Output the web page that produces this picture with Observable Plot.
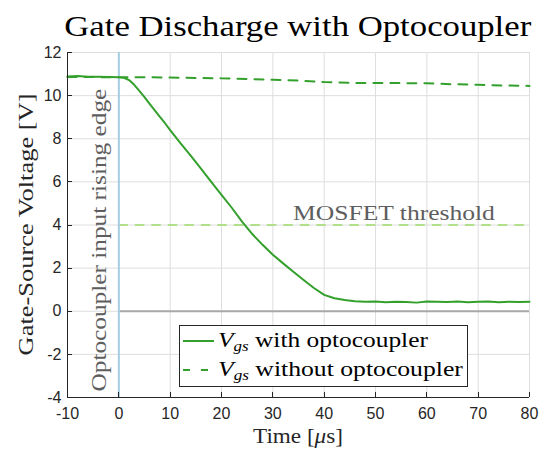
<!DOCTYPE html>
<html>
<head>
<meta charset="utf-8">
<script src="https://cdn.jsdelivr.net/npm/d3@7"></script>
<script src="https://cdn.jsdelivr.net/npm/@observablehq/plot@0.6"></script>
<style>
  html, body { margin: 0; padding: 0; background: #fff; }
  body { width: 539px; height: 450px; overflow: hidden; }
  #title { box-sizing: border-box; height: 45px; margin-left: 67px; width: 462px; padding-top: 11px;
           text-align: center; font-family: "Liberation Serif", serif; font-size: 30px; line-height: 30px;
           color: #000; white-space: nowrap; }
  #title span { display: inline-block; transform-origin: 50% 50%; }
  #chart svg { display: block; }
</style>
</head>
<body>
<div id="title"><span>Gate Discharge with Optocoupler</span></div>
<div id="chart"></div>
<script>
// ---------- data ----------
const xDomain = [-10, 80];
const yDomain = [-4, 12];
const xTicks = [-10, 0, 10, 20, 30, 40, 50, 60, 70, 80];
const yTicks = [-4, -2, 0, 2, 4, 6, 8, 10, 12];

// V_gs with optocoupler (µs, V)
const timeWith = [-10, -8, -6, -4, -2, 0, 1, 2, 3, 4, 5, 6, 7, 8, 9, 10, 12, 14, 16, 18, 20, 22, 24, 26, 28, 30,
                  32, 34, 36, 38, 40, 42, 44, 46, 48, 50, 52, 54, 56, 58, 60, 62, 64, 66, 68, 70, 72, 74, 76, 78, 80];
const vgsWith  = [10.89, 10.91, 10.88, 10.87, 10.86, 10.85, 10.83, 10.72, 10.50, 10.22, 9.93, 9.62, 9.32, 9.01, 8.72, 8.40,
                  7.80, 7.22, 6.62, 6.00, 5.40, 4.80, 4.16, 3.58, 3.08, 2.62, 2.22, 1.83, 1.45, 1.08, 0.76, 0.60, 0.52,
                  0.46, 0.44, 0.45, 0.42, 0.44, 0.43, 0.40, 0.45, 0.44, 0.43, 0.45, 0.42, 0.44, 0.45, 0.42, 0.44, 0.43, 0.44];

// V_gs without optocoupler
const timeWithout = [-10, -5, 0, 5, 10, 15, 20, 25, 30, 35, 40, 45, 50, 55, 60, 65, 70, 75, 80];
const vgsWithout  = [10.86, 10.86, 10.85, 10.85, 10.84, 10.82, 10.80, 10.77, 10.74, 10.70, 10.63, 10.59, 10.58, 10.58,
                     10.57, 10.53, 10.50, 10.47, 10.45];

const seriesNames = ["with optocoupler", "without optocoupler"];
const thresholdValue = 4;
const thresholdSpan = [0, 80];
const zeroSpan = [0, 80];
const edgeTime = 0;
const thresholdText = "MOSFET threshold";
const thresholdTextTime = 53.6;
const edgeText = "Optocoupler input rising edge";
const xLabelParts = ["Time [", "μ", "s]"];
const yLabelText = "Gate-Source Voltage [V]";

// ---------- tables ----------
const withData = timeWith.map((t, i) => ({t, v: vgsWith[i]}));
const withoutData = timeWithout.map((t, i) => ({t, v: vgsWithout[i]}));

const green = "#33a02c", lightGreen = "#b2df8a", lightBlue = "#a6cee3", axisColor = "#262626";
const serif = "'Liberation Serif', 'Times New Roman', serif";
const fmt = d => String(d);

const chart = Plot.plot({
  width: 539, height: 405,
  marginTop: 7, marginBottom: 53, marginLeft: 67, marginRight: 10,
  x: {domain: xDomain},
  y: {domain: yDomain},
  style: {background: "#fff", fontFamily: "'Liberation Sans', Arial, sans-serif", fontSize: "16px", color: axisColor},
  marks: [
    Plot.gridX(xTicks, {stroke: "#dedede", strokeOpacity: 1, strokeWidth: 1}),
    Plot.gridY(yTicks, {stroke: "#dedede", strokeOpacity: 1, strokeWidth: 1}),
    Plot.ruleY([{v: 0, a: zeroSpan[0], b: zeroSpan[1]}], {y: "v", x1: "a", x2: "b", stroke: "#a9a9a9", strokeWidth: 2}),
    Plot.ruleY([{v: thresholdValue, a: thresholdSpan[0], b: thresholdSpan[1]}],
               {y: "v", x1: "a", x2: "b", stroke: lightGreen, strokeWidth: 2, strokeDasharray: "9.5,7"}),
    Plot.ruleX([edgeTime], {stroke: lightBlue, strokeWidth: 2}),
    Plot.line(withoutData, {x: "t", y: "v", stroke: green, strokeWidth: 2, strokeDasharray: "9,8"}),
    Plot.line(withData, {x: "t", y: "v", stroke: green, strokeWidth: 2}),
    Plot.ruleX([xDomain[0]], {stroke: axisColor, strokeWidth: 1}),
    Plot.ruleY([yDomain[0]], {stroke: axisColor, strokeWidth: 1}),
    Plot.axisX({ticks: xTicks, tickFormat: fmt, tickSize: 0, tickPadding: 10, label: null, fill: axisColor}),
    Plot.axisY({ticks: yTicks, tickFormat: fmt, tickSize: 0, tickPadding: 6, label: null, fill: axisColor}),
    Plot.text([{t: thresholdTextTime, v: thresholdValue, s: thresholdText}],
              {x: "t", y: "v", text: "s", textAnchor: "middle", lineAnchor: "bottom", dy: -5,
               fontSize: 20, fontFamily: serif, fill: "#5e5e5e", className: "thr-label"}),
    Plot.text([{t: edgeTime, v: yDomain[0], s: edgeText}],
              {x: "t", y: "v", text: "s", rotate: -90, textAnchor: "start", lineAnchor: "bottom", dx: -13, dy: -6,
               fontSize: 20, fontFamily: serif, fill: "#5e5e5e", className: "edge-label"})
  ]
});
document.getElementById("chart").appendChild(chart);

// ---------- helpers ----------
function stretch(node, target) {
  const len = node.getComputedTextLength();
  if (!len) return;
  const k = target / len;
  const x = +node.getAttribute("x") || 0, y = +node.getAttribute("y") || 0;
  const t = node.getAttribute("transform") || "";
  node.setAttribute("x", 0); node.setAttribute("y", 0);
  node.setAttribute("transform", `${t} translate(${x},${y}) scale(${k},1)`);
}

const svg = d3.select(chart);
const xs = chart.scale("x"), ys = chart.scale("y");
const X = v => xs.apply(v), Y = v => ys.apply(v);

svg.selectAll(".thr-label text").each(function() { stretch(this, 202); });
svg.selectAll(".edge-label text").each(function() { stretch(this, 303); });

// inward tick marks
const tk = svg.append("g").attr("stroke", axisColor).attr("stroke-width", 1);
xTicks.forEach(v => {
  const px = Math.round(X(v)) + 0.5, py = Y(yDomain[0]);
  tk.append("line").attr("x1", px).attr("x2", px).attr("y1", py).attr("y2", py - 5);
});
yTicks.forEach(v => {
  const py = Math.round(Y(v)) + 0.5, px = X(xDomain[0]);
  tk.append("line").attr("x1", px).attr("x2", px + 5).attr("y1", py).attr("y2", py);
});

// axis labels
const cx = (X(xDomain[0]) + X(xDomain[1])) / 2;
const cy = (Y(yDomain[0]) + Y(yDomain[1])) / 2;
const xl = svg.append("text").attr("font-family", serif).attr("font-size", 20).attr("fill", axisColor)
  .attr("text-anchor", "middle");
xl.append("tspan").text(xLabelParts[0]);
xl.append("tspan").attr("font-style", "italic").text(xLabelParts[1]);
xl.append("tspan").text(xLabelParts[2]);
xl.attr("transform", `translate(${cx},398)`);
stretch(xl.node(), 90);

const yl = svg.append("text").attr("font-family", serif).attr("font-size", 21).attr("fill", axisColor)
  .attr("text-anchor", "middle").attr("transform", `translate(33,${cy}) rotate(-90)`).text(yLabelText);
stretch(yl.node(), 262);

// legend
const lg = svg.append("g");
lg.append("rect").attr("x", 179.5).attr("y", 280.5).attr("width", 288).attr("height", 61)
  .attr("fill", "#fff").attr("stroke", axisColor).attr("stroke-width", 1);
const rows = [
  {y: 296, dash: null, width: 210},
  {y: 325, dash: "7,11", width: 245}
];
rows.forEach((r, i) => {
  lg.append("line").attr("x1", 183).attr("x2", i === 0 ? 214 : 209).attr("y1", r.y).attr("y2", r.y)
    .attr("stroke", green).attr("stroke-width", 2).attr("stroke-dasharray", r.dash);
  const tx = lg.append("text").attr("font-family", serif).attr("font-size", 21).attr("fill", "#000")
    .attr("text-anchor", "start").attr("transform", `translate(218,${r.y + 6})`);
  tx.append("tspan").attr("font-style", "italic").text("V");
  tx.append("tspan").attr("font-style", "italic").attr("font-size", 14).attr("dy", 4).text("gs");
  tx.append("tspan").attr("dy", -4).text("\u00a0" + seriesNames[i]);
  stretch(tx.node(), r.width);
});

// title width
const ts = document.querySelector("#title span");
const tw = ts.getBoundingClientRect().width;
ts.style.transform = `scaleX(${467 / tw})`;
</script>
</body>
</html>
